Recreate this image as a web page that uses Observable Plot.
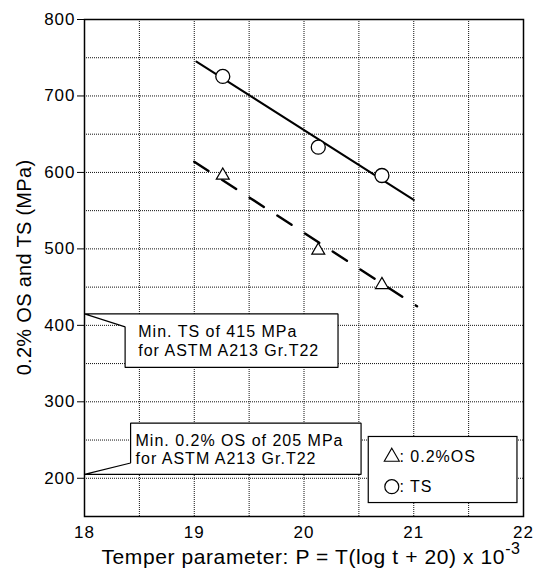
<!DOCTYPE html>
<html><head><meta charset="utf-8">
<script src="https://cdn.jsdelivr.net/npm/d3@7"></script>
<script src="https://cdn.jsdelivr.net/npm/@observablehq/plot@0.6"></script>
<style>body{margin:0;background:#fff} #chart{width:534px;height:572px}</style>
</head><body><div id="chart"></div>
<script>
// measured points
const tsP = [19.26, 20.13, 20.71];
const tsVal = [725.5, 633, 596];
const osP = [19.26, 20.13, 20.71];
const osVal = [596, 498, 453];
// fitted lines (end points)
const tsFitP = [19.02, 21.0];
const tsFitVal = [745, 564];
const osFitP = [19.0, 21.03];
const osFitVal = [614, 425];
// axes
const xTicks = [18, 19, 20, 21, 22];
const yTicks = [200, 300, 400, 500, 600, 700, 800];
const xGrid = [18.5, 19, 19.5, 20, 20.5, 21, 21.5];
const yGrid = [200, 250, 300, 350, 400, 450, 500, 550, 600, 650, 700, 750];
// annotations (data units)
const minTS = 415, minOS = 205;
const tsNoteP = [18, 20.31, 20.31, 18.37, 18.37, 18];
const tsNoteV = [minTS, minTS, 345, 345, 398, minTS];
const osNoteP = [18, 18.42, 18.42, 20.52, 20.52, 18];
const osNoteV = [minOS, 220, 272, 272, minOS, minOS];
const tsNoteText = "Min. TS of 415 MPa\nfor ASTM A213 Gr.T22";
const osNoteText = "Min. 0.2% OS of 205 MPa\nfor ASTM A213 Gr.T22";
const legendLabels = [": 0.2%OS", ": TS"];

const toPts = (xs, ys) => xs.map((x, i) => ({x, y: ys[i]}));
const ts = toPts(tsP, tsVal), os = toPts(osP, osVal);
const tsFit = toPts(tsFitP, tsFitVal), osFit = toPts(osFitP, osFitVal);
const tsNote = toPts(tsNoteP, tsNoteV), osNote = toPts(osNoteP, osNoteV);

const plot = Plot.plot({
  width: 534, height: 572,
  marginLeft: 84, marginRight: 11, marginTop: 19, marginBottom: 56,
  style: {fontFamily: "'Liberation Sans', Arial, sans-serif", background: "#fff", color: "#000", letterSpacing: "1px"},
  x: {domain: [18, 22]},
  y: {domain: [150, 800]},
  marks: [
    Plot.gridX(xGrid, {stroke: "#111", strokeOpacity: 1, strokeDasharray: "1,1", strokeWidth: 1}),
    Plot.gridY(yGrid, {stroke: "#111", strokeOpacity: 1, strokeDasharray: "1,1", strokeWidth: 1}),
    Plot.line(tsNote, {x: "x", y: "y", fill: "white", stroke: "black", strokeWidth: 1.2, strokeLinejoin: "miter"}),
    Plot.line(osNote, {x: "x", y: "y", fill: "white", stroke: "black", strokeWidth: 1.2, strokeLinejoin: "miter"}),
    Plot.text([tsNoteText], {x: 18.49, y: 380, text: d => d, textAnchor: "start", lineAnchor: "middle", fontSize: 16, lineHeight: 1.15}),
    Plot.text([osNoteText], {x: 18.465, y: 238, text: d => d, textAnchor: "start", lineAnchor: "middle", fontSize: 16, lineHeight: 1.15}),
    Plot.line(tsFit, {x: "x", y: "y", stroke: "black", strokeWidth: 2}),
    Plot.line(osFit, {x: "x", y: "y", stroke: "black", strokeWidth: 2.4, strokeDasharray: "17,16"}),
    Plot.dot(ts, {x: "x", y: "y", r: 7, symbol: "circle", fill: "white", stroke: "black", strokeWidth: 1.3}),
    Plot.dot(os, {x: "x", y: "y", r: 4.8, symbol: "triangle", fill: "white", stroke: "black", strokeWidth: 1.2}),
    // legend
    Plot.rect([0], {x1: 20.59, x2: 21.945, y1: 167.6, y2: 254, fill: "white", stroke: "black", strokeWidth: 1.2}),
    Plot.dot([0], {x: 20.80, y: 228, r: 5.6, symbol: "triangle", fill: "white", stroke: "black", strokeWidth: 1.1}),
    Plot.dot([0], {x: 20.80, y: 189, r: 7, symbol: "circle", fill: "white", stroke: "black", strokeWidth: 1.2}),
    Plot.text(legendLabels, {x: 20.87, y: (d, i) => i === 0 ? 228 : 189, text: d => d, textAnchor: "start", fontSize: 16}),
    Plot.axisY({ticks: yTicks, tickSize: 7, tickPadding: 2, fontSize: 17, label: null}),
    Plot.axisX({ticks: xTicks, tickFormat: d3.format("d"), tickSize: 0, tickPadding: 9, fontSize: 17, label: null}),
    Plot.frame({stroke: "black", strokeWidth: 1.5})
  ]
});
document.getElementById("chart").appendChild(plot);

const svg = d3.select(plot);
svg.append("text")
  .attr("transform", "translate(31,267.5) rotate(-90)")
  .attr("text-anchor", "middle")
  .attr("font-size", 20)
  .attr("letter-spacing", "0.3px")
  .attr("fill", "black")
  .text("0.2% OS and TS (MPa)");
const xt = svg.append("text")
  .attr("x", 311).attr("y", 564)
  .attr("text-anchor", "middle")
  .attr("font-size", 21)
  .attr("letter-spacing", "0.6px")
  .attr("fill", "black");
xt.append("tspan").text("Temper parameter: P = T(log t + 20) x 10");
xt.append("tspan").attr("dy", -10).attr("font-size", 16).text("-3");
</script>
</body></html>
